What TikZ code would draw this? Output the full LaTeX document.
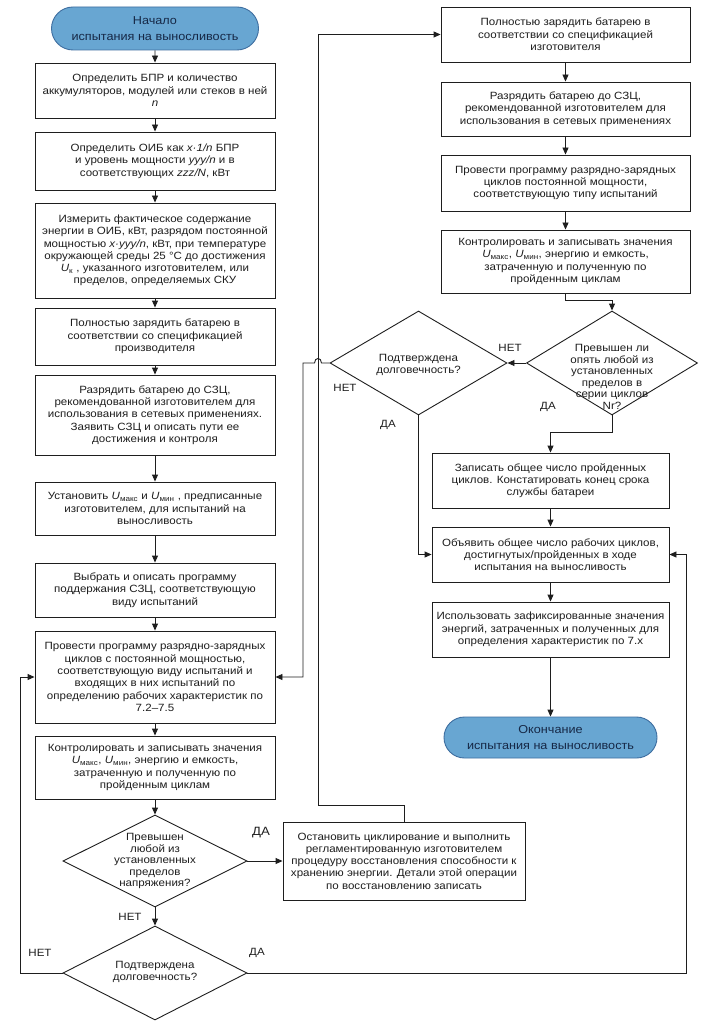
\documentclass[tikz,border=0pt]{standalone}
\usepackage{fontspec}
\setmainfont{Liberation Sans}[FakeStretch=1.1]
\usetikzlibrary{arrows.meta,shapes.geometric,shapes.misc}
\definecolor{termfill}{RGB}{104,166,210}
\definecolor{termline}{RGB}{62,110,160}
\definecolor{termtext}{RGB}{22,40,70}
\definecolor{ink}{RGB}{30,30,30}
\newcommand{\Us}[1]{\textit{U}\textsubscript{#1}}
\tikzset{
  box/.style={draw=ink, line width=0.9pt, fill=white, align=center, inner sep=0pt,
    font=\fontsize{10.5}{12.3}\selectfont, text=ink},
  term/.style={rounded rectangle, draw=termline, line width=0.9pt, fill=termfill, align=center,
    inner sep=0pt, font=\fontsize{11.5}{16.5}\selectfont, text=termtext},
  dia/.style={diamond, draw=ink, line width=0.9pt, fill=white, inner sep=0pt},
  dtext/.style={align=center, inner sep=0pt, font=\fontsize{10.5}{11.5}\selectfont, text=ink},
  lbl/.style={inner sep=0pt, font=\fontsize{10.5}{12}\selectfont, text=ink},
  arr/.style={draw=ink, line width=0.9pt, -{Triangle[length=7pt,width=6pt]}},
}
\begin{document}
\begin{tikzpicture}[x=1pt,y=-1pt]
\useasboundingbox (0,0) rectangle (709,1024);
\fill[white] (0,0) rectangle (709,1024);

% left column
\node[term, minimum width=207pt, minimum height=43pt] (start) at (155,28.5) {Начало\\испытания на выносливость};
\node[box, minimum width=240pt, minimum height=55pt] (b1) at (155,90.5) {Определить БПР и количество\\аккумуляторов, модулей или стеков в ней\\\textit{n}};
\node[box, minimum width=240pt, minimum height=58pt] (b2) at (155,161) {Определить ОИБ как \textit{x·1/n} БПР\\и уровень мощности \textit{yyy/n} и в\\соответствующих \textit{zzz/N}, кВт};
\node[box, minimum width=240pt, minimum height=95pt] (b3) at (155,250.5) {Измерить фактическое содержание\\энергии в ОИБ, кВт, разрядом постоянной\\мощностью \textit{x·yyy/n}, кВт, при температуре\\окружающей среды 25 °С до достижения\\\Us{к} , указанного изготовителем, или\\пределов, определяемых СКУ};
\node[box, minimum width=240pt, minimum height=57pt] (b4) at (155,336.5) {Полностью зарядить батарею в\\соответствии со спецификацией\\производителя};
\node[box, minimum width=240pt, minimum height=80pt] (b5) at (155,415) {Разрядить батарею до СЗЦ,\\рекомендованной изготовителем для\\использования в сетевых применениях.\\Заявить СЗЦ и описать пути ее\\достижения и контроля};
\node[box, minimum width=240pt, minimum height=53pt] (b6) at (155,508.5) {Установить \Us{макс} и \Us{мин} , предписанные\\изготовителем, для испытаний на\\выносливость};
\node[box, minimum width=240pt, minimum height=54pt] (b7) at (155,590) {Выбрать и описать программу\\поддержания СЗЦ, соответствующую\\виду испытаний};
\node[box, minimum width=240pt, minimum height=92pt] (b8) at (155,677) {Провести программу разрядно-зарядных\\циклов с постоянной мощностью,\\соответствующую виду испытаний и\\входящих в них испытаний по\\определению рабочих характеристик по\\7.2–7.5};
\node[box, minimum width=240pt, minimum height=63pt] (b9) at (155,767.5) {Контролировать и записывать значения\\\Us{макс}, \Us{мин}, энергию и емкость,\\затраченную и полученную по\\пройденным циклам};
\node[dia, minimum width=184pt, minimum height=92pt] (d1) at (155,861) {};
\node[dtext] (d1t) at (155,861) {Превышен\\любой из\\установленных\\пределов\\напряжения?};
\node[dia, minimum width=184pt, minimum height=94pt] (d2) at (155,973) {};
\node[dtext] (d2t) at (155,972) {Подтверждена\\долговечность?};
\node[box, minimum width=242pt, minimum height=78pt] (stop) at (404,861) {Остановить циклирование и выполнить\\регламентированную изготовителем\\процедуру восстановления способности к\\хранению энергии. Детали этой операции\\по восстановлению записать};

% right column
\node[box, minimum width=249pt, minimum height=55pt] (r1) at (565.5,34.5) {Полностью зарядить батарею в\\соответствии со спецификацией\\изготовителя};
\node[box, minimum width=249pt, minimum height=54pt] (r2) at (565.5,109) {Разрядить батарею до СЗЦ,\\рекомендованной изготовителем для\\использования в сетевых применениях};
\node[box, minimum width=249pt, minimum height=56pt] (r3) at (565.5,183) {Провести программу разрядно-зарядных\\циклов постоянной мощности,\\соответствующую типу испытаний};
\node[box, minimum width=249pt, minimum height=63pt] (r4) at (565.5,261.5) {Контролировать и записывать значения\\\Us{макс}, \Us{мин}, энергию и емкость,\\затраченную и полученную по\\пройденным циклам};
\node[dia, minimum width=171pt, minimum height=104pt] (rd) at (612,363) {};
\node[dtext] (rdt) at (612,377) {Превышен ли\\опять любой из\\установленных\\пределов в\\серии циклов\\Nr?};
\node[dia, minimum width=177pt, minimum height=104pt] (md) at (418.5,363) {};
\node[dtext] (mdt) at (418.5,365) {Подтверждена\\долговечность?};
\node[box, minimum width=237pt, minimum height=55pt] (r5) at (550.5,480.5) {Записать общее число пройденных\\циклов. Констатировать конец срока\\службы батареи};
\node[box, minimum width=237pt, minimum height=55pt] (r6) at (550.5,554.5) {Объявить общее число рабочих циклов,\\достигнутых/пройденных в ходе\\испытания на выносливость};
\node[box, minimum width=237pt, minimum height=55pt] (r7) at (550.5,629.5) {Использовать зафиксированные значения\\энергий, затраченных и полученных для\\определения характеристик по 7.x};
\node[term, minimum width=213pt, minimum height=41pt] (end) at (550.5,737.5) {Окончание\\испытания на выносливость};

% labels
\node[lbl, font=\fontsize{12}{12}\selectfont] (l1) at (261,833) {ДА};
\node[lbl] (l2) at (130,917) {НЕТ};
\node[lbl] (l3) at (40,953) {НЕТ};
\node[lbl] (l4) at (257,953) {ДА};
\node[lbl] (l5) at (510,348) {НЕТ};
\node[lbl] (l6) at (548,407) {ДА};
\node[lbl] (l7) at (345,388) {НЕТ};
\node[lbl] (l8) at (388,425) {ДА};

% connectors left
\draw[arr] (start) -- (b1);
\draw[arr] (b1) -- (b2);
\draw[arr] (b2) -- (b3);
\draw[arr] (b3) -- (b4);
\draw[arr] (b4) -- (b5);
\draw[arr] (b5) -- (b6);
\draw[arr] (b6) -- (b7);
\draw[arr] (b7) -- (b8);
\draw[arr] (b8) -- (b9);
\draw[arr] (b9) -- (d1);
\draw[arr] (d1.east) -- (stop.west);
\draw[arr] (d1.south) -- (d2.north);
\draw[arr] (d2.west) -- (20,973) |- (b8.west);
\draw[arr] (d2.east) -- (686,973) |- (r6.east);
\draw[arr] (stop.north) |- (318,805) |- (r1.west);

% connectors right
\draw[arr] (r1) -- (r2);
\draw[arr] (r2) -- (r3);
\draw[arr] (r3) -- (r4);
\draw[arr] (r4.south) -- ++(0,7) -| (rd.north);
\draw[arr] (rd.west) -- (md.east);
\draw[arr] (rd.south) -- ++(0,17) -| (r5.north);
\draw[arr] (md.west) -- (321.5,363) .. controls (321.5,357) and (314.5,357) .. (314.5,363) -- (303,363) |- (b8.east);
\draw[arr] (md.south) |- (r6.west);
\draw[arr] (r5) -- (r6);
\draw[arr] (r6) -- (r7);
\draw[arr] (r7) -- (end);
\end{tikzpicture}
\end{document}
